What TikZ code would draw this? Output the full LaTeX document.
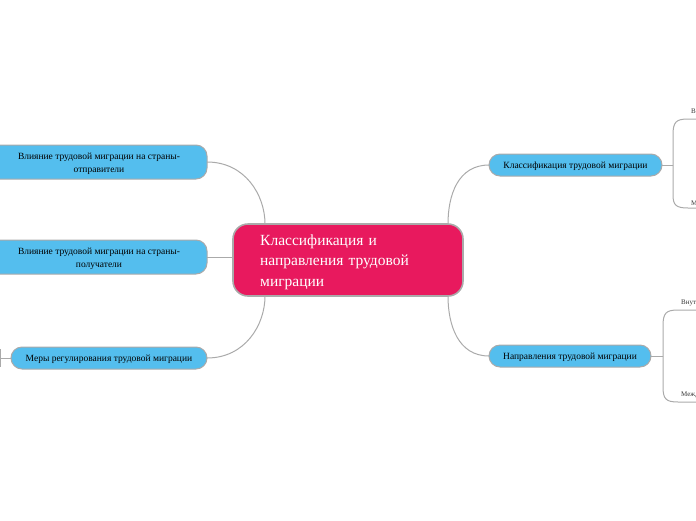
\documentclass[tikz,border=0pt]{standalone}
\usepackage{fontspec}
\setmainfont{Liberation Serif}
\definecolor{crim}{RGB}{232,25,94}
\definecolor{sky}{RGB}{84,190,238}
\definecolor{edge}{RGB}{170,170,170}
\begin{document}
\begin{tikzpicture}[x=1pt,y=-1pt,
  conn/.style={draw=edge,line width=1pt},
  central/.style={draw=edge,line width=1.6pt,fill=crim,rounded corners=15pt},
  topic/.style={draw=edge,line width=1pt,fill=sky,rounded corners=11pt},
  toptext/.style={font=\fontsize{9.5}{13}\selectfont,text=black,align=center,inner sep=0pt},
  leaftext/.style={font=\fontsize{7}{8}\selectfont,text=black!80,anchor=base west,inner sep=0pt}]
\useasboundingbox (0,0) rectangle (696,520);
\clip (0,0) rectangle (696,520);
% central
\path[central] (233,224) rectangle (463,296);
\node[anchor=north west,inner sep=0pt,text=white,align=left,text width=190pt,
  font=\fontsize{15.5}{20.5}\selectfont] (ct) at (260,234.5)
  {Классификация и\\направления трудовой\\миграции};
% right topics
\path[topic] (489,154) rectangle (662,176);
\node[toptext] (r1) at (575.5,166) {Классификация трудовой миграции};
\path[topic] (489,345) rectangle (651,367);
\node[toptext] (r2) at (570,357) {Направления трудовой миграции};
% left topics
\path[topic] (-20,145) rectangle (207,179);
\node[toptext] (l1) at (99,164) {Влияние трудовой миграции на страны-\\отправители};
\path[topic] (-20,240) rectangle (207,274);
\node[toptext] (l2) at (99,259) {Влияние трудовой миграции на страны-\\получатели};
\path[topic] (11,347) rectangle (207,369);
\node[toptext] (l3) at (109,359) {Меры регулирования трудовой миграции};
% connector coordinates
\coordinate (ctl) at (265,224);
\coordinate (cbl) at (265,296);
\coordinate (ctr) at (448,224);
\coordinate (cbr) at (448,296);
\coordinate (cl) at (233,257);
\coordinate (l1e) at (207,162);
\coordinate (l2e) at (207,257);
\coordinate (l3e) at (207,358);
\coordinate (r1e) at (489,165);
\coordinate (r2e) at (489,356);
\draw[conn] (l1e) .. controls (245,162) and (265,195) .. (ctl);
\draw[conn] (l2e) -- (cl);
\draw[conn] (l3e) .. controls (245,358) and (265,325) .. (cbl);
\draw[conn] (r1e) .. controls (458,165) and (448,195) .. (ctr);
\draw[conn] (r2e) .. controls (458,356) and (448,325) .. (cbr);
% left stub
\coordinate (l3s) at (11,358);
\coordinate (l3b) at (0.5,358);
\draw[conn] (l3s) -- (l3b);
\draw[conn] (0.5,349) -- (0.5,367);
% right brackets
\coordinate (r1s) at (662,165);
\coordinate (r1j) at (673,165);
\draw[conn] (r1s) -- (r1j);
\draw[conn] (r1j) -- (673,135) .. controls (673,122) and (676,119) .. (688,119) -- (696,119);
\draw[conn] (r1j) -- (673,195) .. controls (673,205) and (676,208) .. (688,208) -- (696,208);
\node[leaftext] (a1) at (691,113) {Временная};
\node[leaftext] (a2) at (691,205) {Международная};
\coordinate (r2s) at (651,356);
\coordinate (r2j) at (663,356);
\draw[conn] (r2s) -- (r2j);
\draw[conn] (r2j) -- (663,326) .. controls (663,313) and (666,310) .. (678,310) -- (696,310);
\draw[conn] (r2j) -- (663,387) .. controls (663,399) and (666,402) .. (678,402) -- (696,402);
\node[leaftext] (b1) at (681,304) {Внутренняя};
\node[leaftext] (b2) at (681,396) {Международная};
\end{tikzpicture}
\end{document}
